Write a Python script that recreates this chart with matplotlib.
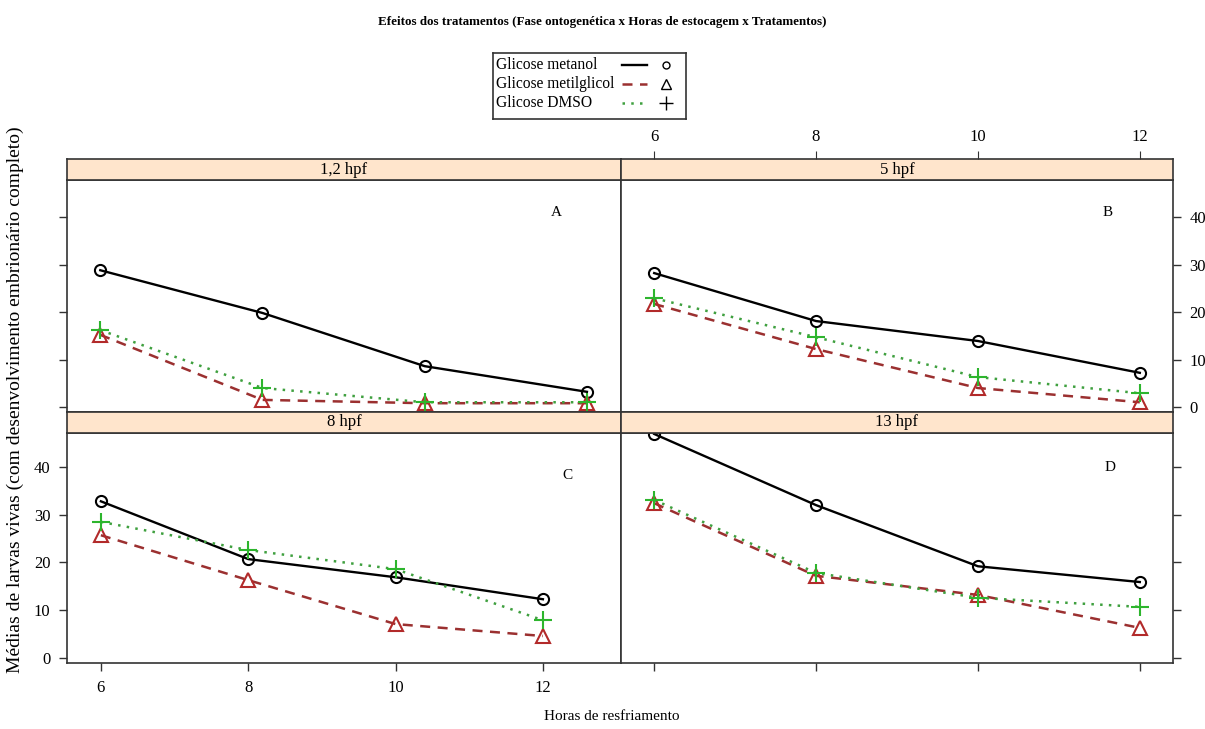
import matplotlib
matplotlib.use("Agg")
import matplotlib.pyplot as plt

plt.rcParams['font.family'] = ['Liberation Serif', 'DejaVu Serif']

hours = [6, 8, 10, 12]
panel_names = ['1,2 hpf', '5 hpf', '8 hpf', '13 hpf']
panel_letters = ['A', 'B', 'C', 'D']
series_names = ['Glicose metanol', 'Glicose metilglicol', 'Glicose DMSO']

metanol = {
    '1,2 hpf': [28.8, 19.8, 8.6, 3.2],
    '5 hpf': [28.2, 18.1, 13.9, 7.2],
    '8 hpf': [32.8, 20.7, 16.9, 12.3],
    '13 hpf': [46.9, 32.0, 19.2, 15.9],
}
metilglicol = {
    '1,2 hpf': [15.2, 1.5, 0.8, 0.8],
    '5 hpf': [21.7, 12.2, 4.0, 1.0],
    '8 hpf': [25.7, 16.3, 7.1, 4.6],
    '13 hpf': [32.4, 17.2, 13.2, 6.3],
}
dmso = {
    '1,2 hpf': [16.2, 4.0, 1.0, 1.0],
    '5 hpf': [22.9, 14.7, 6.3, 2.9],
    '8 hpf': [28.5, 22.6, 18.6, 7.9],
    '13 hpf': [33.1, 17.8, 12.6, 10.7],
}
y_ticks = [0, 10, 20, 30, 40]

W, H = 1205, 729
fig = plt.figure(figsize=(W / 100, H / 100), dpi=100)

def fx(px):
    return px / W

def fy(py):
    return 1 - py / H

strip_col = '#FFE5CC'
spine_col = '#333333'

styles = [
    dict(color='black', ls='-', lw=1.7, marker='o', ms=8, mfc='none', mec='black', mew=1.5),
    dict(color='#9B3030', ls=(0, (4, 3)), lw=1.8, marker='^', ms=10, mfc='none', mec='#B22A2A', mew=1.5),
    dict(color='#3FA03F', ls=(0, (1, 2.5)), lw=1.8, marker='+', ms=13, mfc='none', mec='#2DB52D', mew=1.5),
]
data_sets = [metanol, metilglicol, dmso]

layout = {
    '1,2 hpf': (67, 621, 159, 180, 412),
    '5 hpf': (621, 1173, 159, 180, 412),
    '8 hpf': (67, 621, 412, 433, 663),
    '13 hpf': (621, 1173, 412, 433, 663),
}
xlims = {
    '1,2 hpf': (5.59, 12.42),
    '5 hpf': (5.59, 12.41),
    '8 hpf': (5.54, 13.06),
    '13 hpf': (5.59, 12.41),
}
ylims = {
    '1,2 hpf': (-1.05, 47.8),
    '5 hpf': (-1.05, 47.8),
    '8 hpf': (-1.05, 47.1),
    '13 hpf': (-1.05, 47.1),
}
letter_pos = {
    '1,2 hpf': (0.884, 0.858),
    '5 hpf': (0.882, 0.858),
    '8 hpf': (0.903, 0.817),
    '13 hpf': (0.886, 0.852),
}

for name, letter in zip(panel_names, panel_letters):
    l, r, st, sb, pb = layout[name]
    ax = fig.add_axes([fx(l), fy(pb), fx(r - l), (pb - sb) / H])
    sax = fig.add_axes([fx(l), fy(sb), fx(r - l), (sb - st) / H])
    for dset, stl in zip(data_sets, styles):
        ax.plot(hours, dset[name], **stl, clip_on=False, zorder=3)
    ax.set_xlim(*xlims[name])
    ax.set_ylim(*ylims[name])
    ax.set_xticks(hours)
    ax.set_yticks(y_ticks)
    ax.tick_params(direction='out', length=6, width=1, color=spine_col,
                   labelsize=12, pad=6)
    for sp in ax.spines.values():
        sp.set_color(spine_col)
        sp.set_linewidth(1.2)
    ax.text(*letter_pos[name], letter, transform=ax.transAxes, fontsize=11,
            ha='center', va='center')

    sax.set_facecolor(strip_col)
    sax.set_xlim(*xlims[name])
    sax.set_ylim(0, 1)
    sax.set_yticks([])
    for sp in sax.spines.values():
        sp.set_color(spine_col)
        sp.set_linewidth(1.2)
    sax.text(0.5, 0.5, name, transform=sax.transAxes, ha='center', va='center',
             fontsize=12)

    if name == '1,2 hpf':
        ax.tick_params(labelleft=False, bottom=False, labelbottom=False)
        sax.set_xticks([])
    elif name == '5 hpf':
        ax.tick_params(left=False, labelleft=False, bottom=False, labelbottom=False,
                       right=True, labelright=True)
        sax.set_xticks(hours)
        sax.tick_params(bottom=False, labelbottom=False, top=True, labeltop=True,
                        direction='out', length=6, color=spine_col, labelsize=12, pad=4)
    elif name == '8 hpf':
        sax.set_xticks([])
    else:
        ax.tick_params(left=False, labelleft=False, right=True, labelright=False,
                       labelbottom=False)
        sax.set_xticks([])

fig.text(0.5, fy(22), 'Efeitos dos tratamentos (Fase ontogenética x Horas de estocagem x Tratamentos)',
         ha='center', va='center', fontsize=9.4, fontweight='bold')
fig.text(fx(612), fy(717), 'Horas de resfriamento', ha='center', va='center', fontsize=11)
fig.text(fx(15), fy(400), 'Médias de larvas vivas (com desenvolvimento embrionário completo)',
         ha='center', va='center', rotation=90, fontsize=14)

lg_l, lg_r, lg_t, lg_b = 493, 686, 53, 119
lax = fig.add_axes([fx(lg_l), fy(lg_b), fx(lg_r - lg_l), (lg_b - lg_t) / H])
lax.set_xlim(lg_l, lg_r)
lax.set_ylim(lg_b, lg_t)
lax.set_xticks([])
lax.set_yticks([])
for sp in lax.spines.values():
    sp.set_color(spine_col)
    sp.set_linewidth(1.2)
row_y = [65, 84, 103]
leg_markers = [dict(marker='o', ms=5, mec='black', mfc='none', mew=1.0),
               dict(marker='^', ms=7, mec='black', mfc='none', mew=1.0),
               dict(marker='+', ms=10, mec='black', mfc='none', mew=1.0)]
for yy, nm, stl, mk in zip(row_y, series_names, styles, leg_markers):
    lax.text(lg_l + 3, yy, nm, ha='left', va='center', fontsize=11.2)
    lax.plot([622, 647], [yy, yy], color=stl['color'], ls=stl['ls'], lw=stl['lw'])
    lax.plot([666], [yy], ls='none', **mk)

fig.savefig('out.png', dpi=100)
